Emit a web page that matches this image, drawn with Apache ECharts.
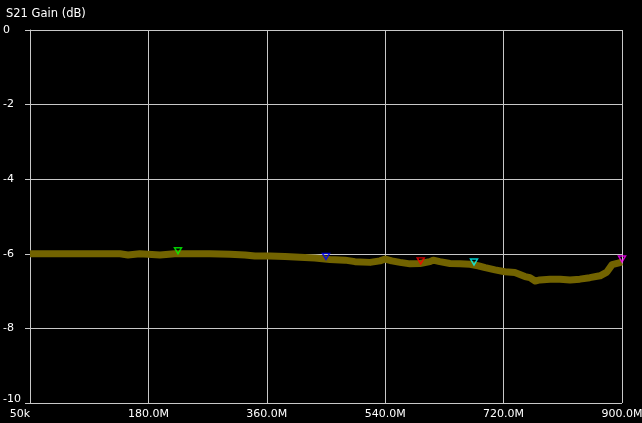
<!DOCTYPE html>
<html>
<head>
<meta charset="utf-8">
<script src="https://cdn.jsdelivr.net/npm/echarts@6/dist/echarts.min.js"></script>
<style>
html,body{margin:0;padding:0;background:#000;overflow:hidden;}
#chart{width:642px;height:423px;}
</style>
</head>
<body>
<div id="chart"></div>
<script>
// Trace data (frequency in MHz, S21 gain in dB)
const freqMHz = [0.05, 45.6, 91.2, 136.8, 149, 167, 197.6, 220, 243, 273.6, 304, 327, 342, 365, 387.7, 410, 433, 456, 479, 494, 517, 532, 540, 550, 562.5, 577.7, 593, 608, 613, 623, 638.5, 654, 669, 681, 692, 707, 722, 737, 752.5, 760, 768, 775, 790.5, 806, 821, 836, 851, 866.6, 877, 885, 894, 900];
const gainDb  = [-6.00, -6.00, -6.00, -6.00, -6.03, -6.00, -6.03, -6.00, -6.00, -6.00, -6.01, -6.03, -6.06, -6.06, -6.07, -6.09, -6.11, -6.15, -6.17, -6.21, -6.23, -6.19, -6.14, -6.19, -6.23, -6.27, -6.26, -6.21, -6.17, -6.21, -6.26, -6.27, -6.28, -6.32, -6.37, -6.43, -6.48, -6.50, -6.61, -6.64, -6.73, -6.70, -6.68, -6.68, -6.70, -6.68, -6.64, -6.59, -6.49, -6.29, -6.25, -6.22];

// Marker positions
const markerFreqMHz = [225, 450, 594, 675, 900];
const markerGainDb  = [-6.00, -6.15, -6.27, -6.30, -6.22];

// Axis ticks
const xTickLabels = ['50k', '180.0M', '360.0M', '540.0M', '720.0M', '900.0M'];
const yTicks = [0, -2, -4, -6, -8, -10];

// Styles
const markerColors = ['#00ff00', '#0000ff', '#ff0000', '#00ffff', '#ff00ff'];
const gridColor = '#c8c8c8';
const textColor = '#ffffff';
const font = 'DejaVu Sans';

const chart = echarts.init(document.getElementById('chart'), null, {renderer: 'canvas', width: 642, height: 423});

chart.setOption({
  backgroundColor: '#000000',
  animation: false,
  title: {
    text: 'S21 Gain (dB)',
    left: 1, top: 3,
    textStyle: {color: textColor, fontFamily: font, fontSize: 11.5, fontWeight: 'normal'}
  },
  grid: {left: 30, top: 30, right: 20, bottom: 20, containLabel: false, outerBoundsMode: 'none'},
  xAxis: {
    type: 'value', min: 0, max: 900, interval: 180,
    axisLine: {show: true, lineStyle: {color: gridColor, width: 1}},
    axisTick: {show: true, length: 3, lineStyle: {color: gridColor}},
    splitLine: {show: true, lineStyle: {color: gridColor, width: 1}},
    axisLabel: {
      color: textColor, fontFamily: font, fontSize: 11, margin: 6,
      alignMinLabel: 'right',
      formatter: function (v) { return xTickLabels[Math.round(v / 180)]; }
    }
  },
  yAxis: {
    type: 'value', min: -10, max: 0, interval: 2,
    axisLine: {show: true, lineStyle: {color: gridColor, width: 1}},
    axisTick: {show: true, length: 5, lineStyle: {color: gridColor}},
    splitLine: {show: true, lineStyle: {color: gridColor, width: 1}},
    axisLabel: {
      color: textColor, fontFamily: font, fontSize: 11, margin: 27, align: 'left',
      formatter: function (v) {
        const s = String(yTicks[yTicks.indexOf(v)]);
        return v === -10 ? '{low|' + s + '}' : s;
      },
      rich: {low: {color: textColor, fontFamily: font, fontSize: 11, padding: [0, 0, 8, 0]}}
    }
  },
  series: [
    {
      type: 'line',
      data: freqMHz.map((f, i) => [f, gainDb[i]]),
      showSymbol: false,
      lineStyle: {color: '#726300', width: 7, join: 'round'},
      z: 3
    },
    {
      type: 'scatter',
      data: markerFreqMHz.map((f, i) => ({
        value: [f, markerGainDb[i]],
        itemStyle: {color: 'rgba(0,0,0,0)', borderColor: markerColors[i], borderWidth: 1.5}
      })),
      symbol: 'path://M0,0 L10,0 L5,9 Z',
      symbolSize: [7, 6],
      symbolOffset: [0, -3],
      z: 5
    }
  ]
});
</script>
</body>
</html>
